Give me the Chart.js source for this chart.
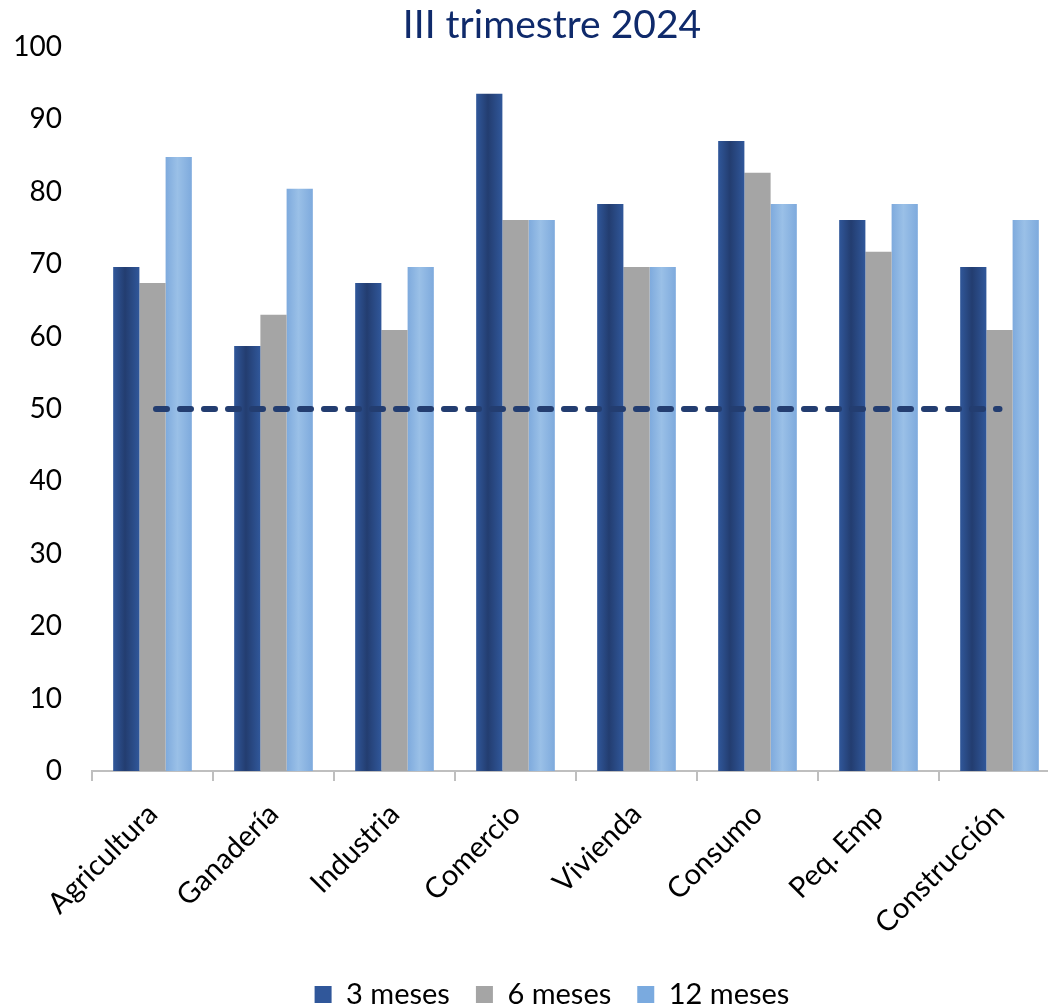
<!DOCTYPE html>
<html>
<head>
<meta charset="utf-8">
<script src="https://cdn.jsdelivr.net/npm/chart.js@4"></script>
<style>
  html, body { margin: 0; padding: 0; background: #fff; overflow: hidden; }
  #wrap { width: 1104px; height: 1008px; position: relative; }
</style>
</head>
<body>
<div id="wrap"><canvas id="chart"></canvas></div>
<script>
const categories = ['Agricultura', 'Ganadería', 'Industria', 'Comercio', 'Vivienda', 'Consumo', 'Peq. Emp', 'Construcción'];
const meses3 = [69.6, 58.7, 67.4, 93.5, 78.3, 87.0, 76.1, 69.6];
const meses6 = [67.4, 63.0, 60.9, 76.1, 69.6, 82.6, 71.7, 60.9];
const meses12 = [84.8, 80.4, 69.6, 76.1, 69.6, 78.3, 78.3, 76.1];
const referencia = [50, 50, 50, 50, 50, 50, 50, 50];
const yTicks = [0, 10, 20, 30, 40, 50, 60, 70, 80, 90, 100];

const CAT_PCT = 0.65;
const PAD_BOTTOM = -11;

// soft horizontal shading across each bar, like the original
function barShade(edge, middle) {
  return (ctx) => {
    const chart = ctx.chart;
    const xs = chart.scales.x;
    if (!xs || ctx.dataIndex === undefined) return edge;
    const catW = xs.width / categories.length;
    const bw = catW * CAT_PCT / 3;
    const cx = xs.getPixelForValue(ctx.dataIndex) + (ctx.datasetIndex - 1) * bw;
    const g = chart.ctx.createLinearGradient(cx - bw / 2, 0, cx + bw / 2, 0);
    g.addColorStop(0, edge);
    g.addColorStop(0.45, middle);
    g.addColorStop(1, edge);
    return g;
  };
}

const font = 'Lato, "Open Sans", sans-serif';

new Chart(document.getElementById('chart'), {
  data: {
    labels: categories,
    datasets: [
      {
        type: 'bar', label: '3 meses', data: meses3, order: 1,
        backgroundColor: barShade('#30579a', '#233d70'),
        borderWidth: 0
      },
      {
        type: 'bar', label: '6 meses', data: meses6, order: 1,
        backgroundColor: '#a5a5a5',
        borderWidth: 0
      },
      {
        type: 'bar', label: '12 meses', data: meses12, order: 1,
        backgroundColor: barShade('#7eaadd', '#9ac0e7'),
        borderWidth: 0
      },
      {
        type: 'line', label: 'Referencia', data: referencia, order: 0,
        borderColor: '#233d70', borderWidth: 6,
        borderDash: [11, 13], borderDashOffset: 20.5, borderCapStyle: 'round',
        pointRadius: 0, fill: false
      }
    ]
  },
  options: {
    responsive: true,
    maintainAspectRatio: false,
    animation: false,
    datasets: { bar: { categoryPercentage: CAT_PCT, barPercentage: 1 } },
    layout: { padding: { left: 0, right: 0, top: 0, bottom: PAD_BOTTOM } },
    plugins: {
      title: {
        display: true,
        text: 'III trimestre 2024',
        color: '#0f2a6b',
        font: { family: font, size: 39, weight: 'normal', lineHeight: 1.1 },
        padding: { top: 1.1, bottom: 0 }
      },
      legend: {
        position: 'bottom',
        labels: {
          filter: (item) => item.datasetIndex < 3,
          color: '#000',
          font: { family: font, size: 29 },
          boxWidth: 17, boxHeight: 17,
          padding: 26,
          generateLabels: (chart) => {
            const fills = ['#30579a', '#a5a5a5', '#7aaadf'];
            return chart.data.datasets.slice(0, 3).map((ds, i) => ({
              text: ds.label, fillStyle: fills[i], strokeStyle: fills[i],
              lineWidth: 0, datasetIndex: i, fontColor: '#000'
            }));
          }
        }
      },
      tooltip: { enabled: false }
    },
    scales: {
      x: {
        offset: true,
        grid: { display: true, drawOnChartArea: false, drawTicks: true, tickLength: 10, color: '#bfbfbf', lineWidth: 2, offset: true },
        border: { display: true, color: '#bfbfbf', width: 2 },
        ticks: {
          color: '#000', font: { family: font, size: 29 },
          minRotation: 45, maxRotation: 45, padding: 16
        },
        afterFit: (scale) => {
          const legendH = scale.chart.legend ? scale.chart.legend.height : 0;
          scale.height = 1008 - PAD_BOTTOM - 771 - legendH;
        }
      },
      y: {
        min: 0, max: 100,
        afterBuildTicks: (scale) => { scale.ticks = yTicks.map(v => ({ value: v })); },
        grid: { display: false, drawTicks: false },
        border: { display: false },
        ticks: { color: '#000', font: { family: font, size: 28 }, padding: 30 },
        afterFit: (scale) => { scale.width = 92; }
      },
      // empty spacer on the right so the plot ends where the original's does
      spacer: {
        type: 'linear', position: 'right', display: true,
        grid: { display: false, drawTicks: false },
        border: { display: false },
        ticks: { display: false },
        afterFit: (scale) => { scale.width = 44; }
      }
    }
  }
});
</script>
</body>
</html>
